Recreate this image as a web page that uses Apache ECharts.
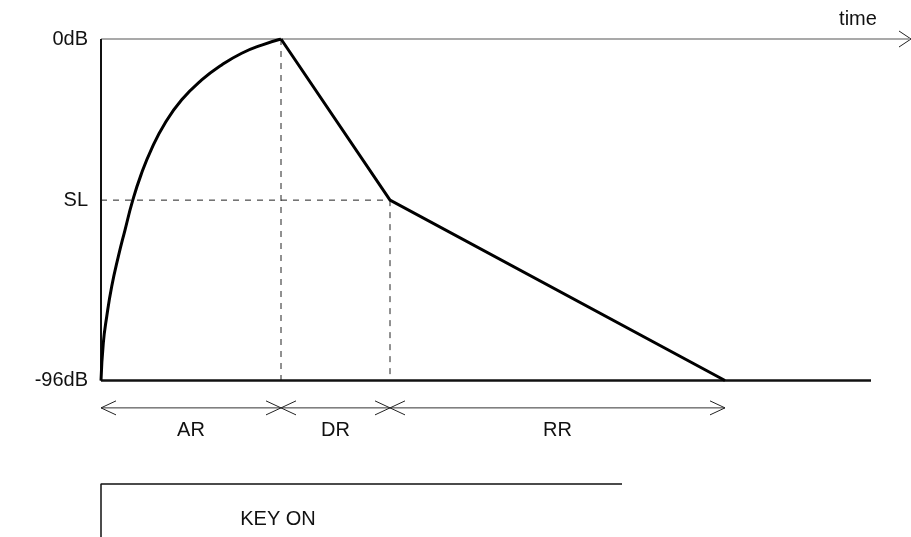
<!DOCTYPE html>
<html>
<head>
<meta charset="utf-8">
<script src="https://cdn.jsdelivr.net/npm/echarts@6/dist/echarts.min.js"></script>
<style>
  html, body { margin: 0; padding: 0; background: #fff; }
  #chart { width: 911px; height: 537px; }
</style>
</head>
<body>
<div id="chart"></div>
<script>
// level axis (dB) labels
const levelNames = ['0dB', 'SL', '-96dB']
const levelValues = [0, -45.3, -96]

// attack curve (time units, dB)
const attackTime = [0, 0.23, 0.57, 1.07, 1.73, 2.4, 3.15, 4.0, 5.07, 6.4, 8.07, 10.07, 12.07, 14.07, 16.07, 18.0]
const attackLevel = [-96, -85.5, -78.1, -69.6, -61.2, -53.7, -45.6, -38.2, -30.8, -23.7, -17.1, -11.5, -7.3, -4.0, -1.7, 0]

// decay + release segments
const envTime = [18.0, 28.9, 62.4]
const envLevel = [0, -45.3, -96]

// phase boundaries and names
const phaseNames = ['AR', 'DR', 'RR']
const phaseBounds = [0, 18.0, 28.9, 62.4]
const phaseArrowLevel = -103.7

const baselineEnd = 77
const timeAxisEnd = 80.8
const timeLabel = 'time'
const timeLabelPos = [75.7, 5.4]

const keyOnName = 'KEY ON'
const keyOnTime = [0, 0, 52.1]
const keyOnLevel = [-140, -125.1, -125.1]
const keyOnLabelPos = [17.7, -135.2]

const FONT = '20px "Liberation Sans", Arial, sans-serif'

const chart = echarts.init(document.getElementById('chart'))

const pts = (xs, ys) => xs.map((x, i) => [x, ys[i]])

// little open chevron, dir = 1 points right, -1 points left
const chevron = (p, dir, w, h) => ({
  type: 'polyline',
  shape: { points: [[p[0] - dir * w, p[1] - h], p, [p[0] - dir * w, p[1] + h]] },
  style: { stroke: '#222', lineWidth: 1, fill: null },
})

const thinLine = (data, dashed) => ({
  type: 'line',
  data,
  showSymbol: false,
  symbol: 'none',
  silent: true,
  lineStyle: { color: '#222', width: 1, type: dashed ? [6, 6] : 'solid' },
})

chart.setOption({
  animation: false,
  grid: { left: 101, right: 0, top: 39, bottom: 0 },
  xAxis: { type: 'value', min: 0, max: 81, show: false },
  yAxis: { type: 'value', min: -140, max: 0, show: false },
  series: [
    // guides
    thinLine([[0, levelValues[1]], [envTime[1], levelValues[1]]], true),
    thinLine([[envTime[0], 0], [envTime[0], -96]], true),
    thinLine([[envTime[1], envLevel[1]], [envTime[1], -96]], true),
    // time axis with arrow
    {
      type: 'custom',
      silent: true,
      data: [[0, 0, timeAxisEnd]],
      renderItem: (params, api) => {
        const a = api.coord([api.value(0), api.value(1)])
        const b = api.coord([api.value(2), api.value(1)])
        const t = api.coord(timeLabelPos)
        return {
          type: 'group',
          children: [
            { type: 'line', shape: { x1: a[0], y1: a[1], x2: b[0], y2: b[1] }, style: { stroke: '#555', lineWidth: 1.2 } },
            chevron([b[0] + 2, b[1]], 1, 12, 8),
            { type: 'text', style: { text: timeLabel, x: t[0], y: t[1], align: 'center', verticalAlign: 'middle', font: FONT, fill: '#111' } },
          ],
        }
      },
    },
    // level axis
    {
      type: 'line',
      data: [[0, 0], [0, -96]],
      symbol: 'none',
      lineStyle: { color: '#111', width: 2 },
    },
    // baseline
    {
      type: 'line',
      data: [[0, -96], [baselineEnd, -96]],
      symbol: 'none',
      lineStyle: { color: '#111', width: 2.5 },
    },
    // attack
    {
      type: 'line',
      data: pts(attackTime, attackLevel),
      smooth: 0.5,
      symbol: 'none',
      lineStyle: { color: '#000', width: 3 },
    },
    // decay / release
    {
      type: 'line',
      data: pts(envTime, envLevel),
      symbol: 'none',
      lineStyle: { color: '#000', width: 3, join: 'miter' },
    },
    // level labels
    {
      type: 'custom',
      silent: true,
      data: levelValues.map((v, i) => [0, v, i]),
      renderItem: (params, api) => {
        const p = api.coord([api.value(0), api.value(1)])
        return {
          type: 'text',
          style: { text: levelNames[api.value(2)], x: p[0] - 13, y: p[1], align: 'right', verticalAlign: 'middle', font: FONT, fill: '#111' },
        }
      },
    },
    // phase arrows AR / DR / RR
    {
      type: 'custom',
      silent: true,
      data: phaseNames.map((n, i) => [phaseBounds[i], phaseBounds[i + 1], phaseArrowLevel, i]),
      renderItem: (params, api) => {
        const a = api.coord([api.value(0), api.value(2)])
        const b = api.coord([api.value(1), api.value(2)])
        return {
          type: 'group',
          children: [
            { type: 'line', shape: { x1: a[0], y1: a[1], x2: b[0], y2: b[1] }, style: { stroke: '#333', lineWidth: 1 } },
            chevron(a, -1, 15, 7),
            chevron(b, 1, 15, 7),
            { type: 'text', style: { text: phaseNames[api.value(3)], x: (a[0] + b[0]) / 2, y: a[1] + 23, align: 'center', verticalAlign: 'middle', font: FONT, fill: '#111' } },
          ],
        }
      },
    },
    // key on
    {
      type: 'line',
      data: pts(keyOnTime, keyOnLevel),
      symbol: 'none',
      lineStyle: { color: '#111', width: 1.5 },
    },
    {
      type: 'custom',
      silent: true,
      data: [keyOnLabelPos],
      renderItem: (params, api) => {
        const p = api.coord([api.value(0), api.value(1)])
        return {
          type: 'text',
          style: { text: keyOnName, x: p[0], y: p[1], align: 'center', verticalAlign: 'middle', font: FONT, fill: '#111' },
        }
      },
    },
  ],
})
</script>
</body>
</html>
